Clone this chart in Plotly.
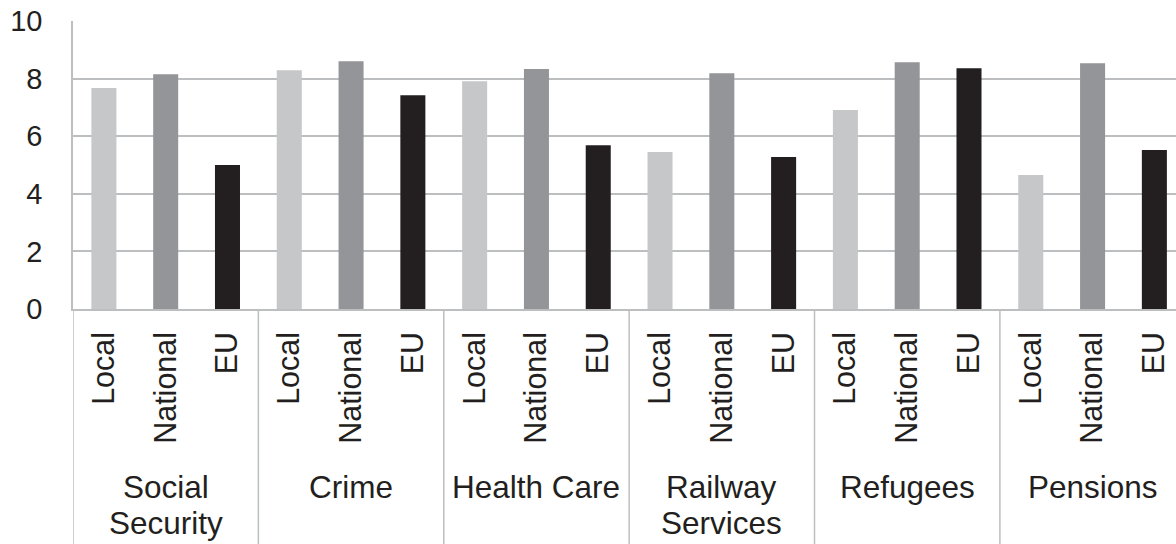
import plotly.graph_objects as go

groups = ["Social<br>Security", "Crime", "Health Care", "Railway<br>Services", "Refugees", "Pensions"]
levels = ["Local", "National", "EU"]
local_vals = [7.67, 8.29, 7.91, 5.45, 6.91, 4.65]
national_vals = [8.15, 8.60, 8.33, 8.19, 8.57, 8.53]
eu_vals = [5.00, 7.42, 5.69, 5.28, 8.36, 5.52]
y_ticks = [0, 2, 4, 6, 8, 10]

series = [local_vals, national_vals, eu_vals]
colors = ["#c6c7c9", "#949599", "#231f20"]
FONT = "Liberation Sans, Arial, sans-serif"
TXT = "#231f20"
GRID = "#bcbec0"
n = len(levels)

W, H = 1176, 544
ML, MT, MB = 73, 21, 235
PLOT_H = H - MT - MB


def px_to_paper(ypx):
    return (H - MB - ypx) / PLOT_H


fig = go.Figure()
for si, (name, vals, col) in enumerate(zip(levels, series, colors)):
    fig.add_trace(go.Bar(
        x=[gi * n + si for gi in range(len(groups))],
        y=vals, name=name, marker=dict(color=col, line=dict(width=0)),
        width=0.405, showlegend=False,
    ))

tickvals = [gi * n + si for gi in range(len(groups)) for si in range(n)]
ticktext = [levels[si] for gi in range(len(groups)) for si in range(n)]

shapes = []
for gi in range(len(groups)):
    xpos = gi * n - 0.5
    shapes.append(dict(type="line", xref="x", yref="paper", x0=xpos, x1=xpos,
                       y0=0, y1=px_to_paper(544), line=dict(color=GRID, width=1.5)))

annotations = []
for gi, g in enumerate(groups):
    for li, line in enumerate(g.split("<br>")):
        annotations.append(dict(
            x=gi * n + 1, xref="x", yref="paper",
            y=px_to_paper(487 + 36 * li), yanchor="middle", xanchor="center",
            text=line, showarrow=False, font=dict(family=FONT, size=31.5, color=TXT),
        ))

fig.update_layout(
    width=W, height=H,
    margin=dict(l=ML, r=0, t=MT, b=MB),
    paper_bgcolor="white", plot_bgcolor="white",
    shapes=shapes, annotations=annotations,
    font=dict(family=FONT, size=29, color=TXT),
)
fig.update_xaxes(
    range=[-0.5, 17.35], tickvals=tickvals, ticktext=ticktext, tickangle=-90,
    showgrid=False, zeroline=False, showline=True, linecolor=GRID, linewidth=1.5,
    ticks="", ticklabelstandoff=9, automargin=False,
    tickfont=dict(family=FONT, size=30.5, color=TXT),
)
fig.update_yaxes(
    range=[0, 10], tickvals=y_ticks, showgrid=True, gridcolor=GRID, gridwidth=1.5,
    zeroline=False, showline=True, linecolor=GRID, linewidth=1.5,
    ticks="", ticklabelstandoff=23, automargin=False,
    tickfont=dict(family=FONT, size=29, color=TXT),
)
fig.write_html(
    "out.html",
    config={"displayModeBar": False},
    post_script="document.body.style.margin='0';document.body.style.overflow='hidden';",
)
